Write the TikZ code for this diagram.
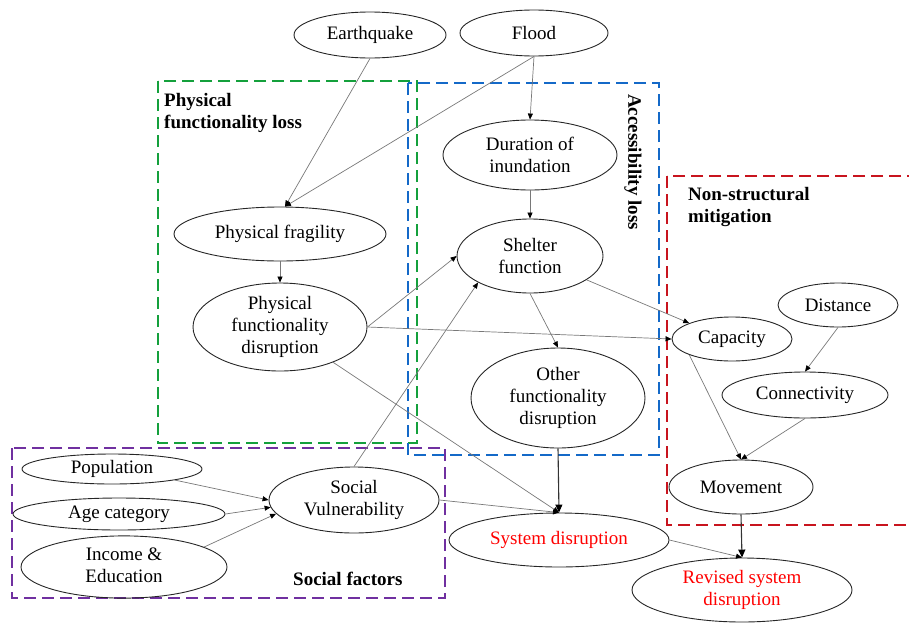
\documentclass[tikz,border=0pt]{standalone}
\usepackage{fontspec}
\setmainfont{Liberation Serif}
\usetikzlibrary{shapes.geometric,arrows.meta}
\definecolor{gbox}{RGB}{20,160,60}
\definecolor{bbox}{RGB}{20,105,200}
\definecolor{rbox}{RGB}{200,20,30}
\definecolor{pbox}{RGB}{112,48,160}
\definecolor{edgegray}{RGB}{120,120,120}
\tikzset{
  el/.style={ellipse, draw=black!85, line width=0.9pt, inner sep=0pt, align=center, font=\fontsize{19}{22}\selectfont},
  grp/.style={dash pattern=on 12pt off 6pt, line width=2.8pt},
  lbl/.style={font=\fontsize{19}{22}\selectfont\bfseries, align=left, inner sep=0pt},
  edge/.style={draw=edgegray, line width=0.7pt, -{Triangle[length=6pt,width=5pt,black]}},
  bigedge/.style={draw=black!80, line width=1.1pt, -{Triangle[length=8pt,width=7pt,black]}}
}
\begin{document}
\begin{tikzpicture}[x=1pt,y=-1pt]
\useasboundingbox (0,0) rectangle (909,624);
% group boxes
\draw[grp, draw=gbox] (158,81) rectangle (417,443);
\draw[grp, draw=bbox] (408,83) rectangle (659,455);
\draw[grp, draw=rbox] (667,176) rectangle (930,525);
\draw[grp, draw=pbox] (12,448) rectangle (445,598);
% group labels
\node[lbl, anchor=north west] (lpf) at (164,93) {Physical\\functionality loss};
\node[lbl, rotate=-90] (lacc) at (633,162) {Accessibility loss};
\node[lbl, anchor=north west] (lns) at (688,187) {Non-structural\\mitigation};
\node[lbl, anchor=base west] (lsf) at (293,585) {Social factors};
% nodes
\node[el, minimum width=152pt, minimum height=46pt] (eq) at (370,35) {Earthquake};
\node[el, minimum width=148pt, minimum height=46pt] (fl) at (534,33) {Flood};
\node[el, minimum width=174pt, minimum height=70pt] (du) at (530,155) {Duration of\\inundation};
\node[el, minimum width=146pt, minimum height=74pt] (sh) at (530,256) {Shelter\\function};
\node[el, minimum width=174pt, minimum height=100pt] (ofd) at (558,398) {Other\\functionality\\disruption};
\node[el, minimum width=212pt, minimum height=54pt] (pf) at (280,234) {Physical fragility};
\node[el, minimum width=174pt, minimum height=88pt] (pfd) at (280,327) {Physical\\functionality\\disruption};
\node[el, minimum width=120pt, minimum height=44pt] (di) at (838,305) {Distance};
\node[el, minimum width=120pt, minimum height=44pt] (ca) at (732,339) {Capacity};
\node[el, minimum width=166pt, minimum height=46pt] (co) at (805,395) {Connectivity};
\node[el, minimum width=144pt, minimum height=54pt] (mo) at (741,487) {Movement};
\node[el, minimum width=220pt, minimum height=64pt, text=red] (rsd) at (742,590) {Revised system\\disruption};
\node[el, minimum width=220pt, minimum height=54pt, text=red] (sd) at (559,540) {System disruption};
\node[el, minimum width=170pt, minimum height=66pt] (sv) at (354,500) {Social\\Vulnerability};
\node[el, minimum width=180pt, minimum height=30pt] (po) at (112,469) {Population};
\node[el, minimum width=212pt, minimum height=32pt] (ag) at (119,514) {Age category};
\node[el, minimum width=206pt, minimum height=56pt] (ie) at (124,567) {\raisebox{-4pt}{\begin{tabular}{@{}c@{}}Income \&\\Education\end{tabular}}};
% edges
\draw[edge] (eq.south) -- ([xshift=5pt]pf.north);
\draw[edge] (fl.south) -- ([xshift=5pt]pf.north);
\draw[edge] (fl.south) -- (du.north);
\draw[edge] (du.south) -- (sh.north);
\draw[edge] (pf.south) -- (pfd.north);
\draw[edge] (pfd.east) -- (sh.west);
\draw[edge] (pfd.east) -- (ca.west);
\draw[edge] (pfd) -- (sd.north);
\draw[edge] (sh.south) -- (ofd.north);
\draw[edge] (sh) -- (ca.north west);
\draw[edge] (sv.north) -- (sh.south west);
\draw[edge] (sv.east) -- (sd.north);
\draw[bigedge] (ofd.south) -- (sd.north);
\draw[edge] (po.-10) -- (sv.west);
\draw[edge] (ag.east) -- (sv.185);
\draw[edge] (ie.14) -- (sv.190);
\draw[edge] (di.south) -- (co.north);
\draw[edge] (ca.south west) -- (mo.north);
\draw[edge] (co.south) -- (mo.north);
\draw[bigedge] (mo.south) -- (rsd.north);
\draw[edge] (sd.east) -- (rsd.north);
\end{tikzpicture}
\end{document}
